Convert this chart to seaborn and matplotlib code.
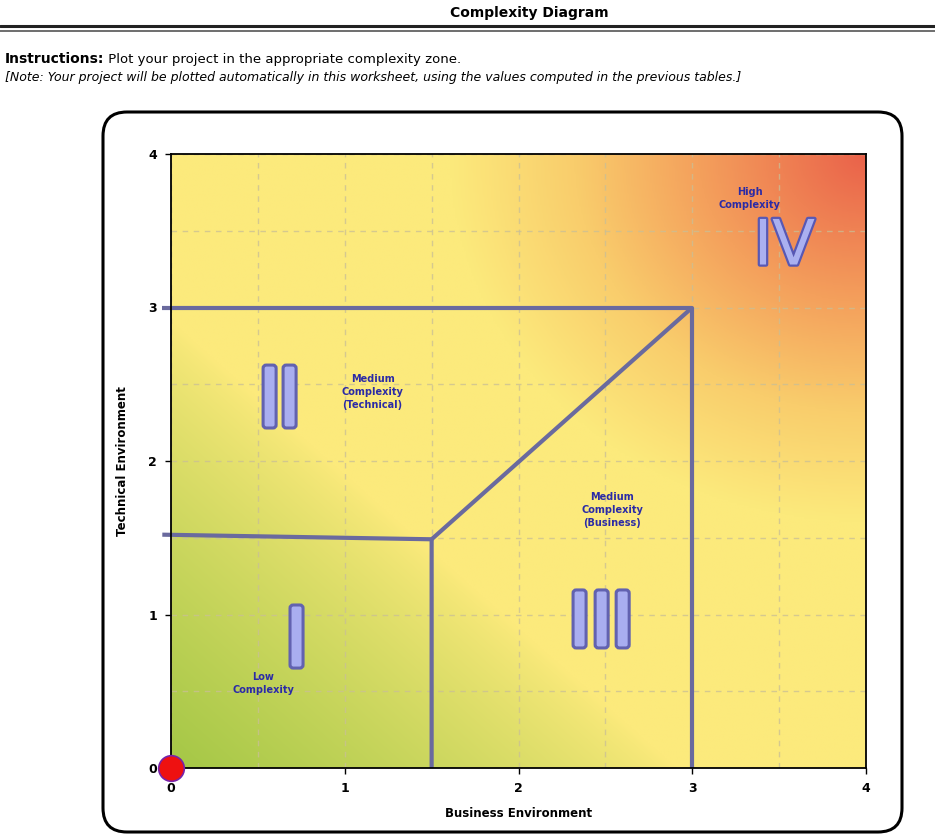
import numpy as np
import pandas as pd
import matplotlib
matplotlib.use("Agg")
import matplotlib.pyplot as plt
import matplotlib.patheffects as pe
from matplotlib.colors import LinearSegmentedColormap
from matplotlib.patches import FancyBboxPatch
from matplotlib.lines import Line2D
from matplotlib.transforms import IdentityTransform
import seaborn as sns

# ---- data -------------------------------------------------------------
axis_ticks = [0, 1, 2, 3, 4]
tick_labels = ["0", "1", "2", "3", "4"]

# project position (business, technical)
project_business = [0.0]
project_technical = [0.0]

# zone boundary segments: (x values, y values)
boundary_x = [[-0.05, 3.0, 3.0], [-0.05, 1.5, 1.5], [1.5, 3.0]]
boundary_y = [[3.0, 3.0, 0.0], [1.52, 1.49, 0.0], [1.49, 3.0]]

zone_names = ["Low\nComplexity", "Medium\nComplexity\n(Technical)",
              "Medium\nComplexity\n(Business)", "High\nComplexity"]
zone_label_x = [0.53, 1.16, 2.54, 3.33]
zone_label_y = [0.55, 2.45, 1.68, 3.71]

# zone numerals: I, II, III as bars (left edge x, bottom y, top y), IV as text
bar_left = [0.685, 0.530, 0.645, 2.314, 2.441, 2.562]
bar_bottom = [0.651, 2.215, 2.215, 0.782, 0.782, 0.782]
bar_top = [1.062, 2.625, 2.625, 1.160, 1.160, 1.160]
numeral_iv = "IV"

# ---- figure -----------------------------------------------------------
sns.set_theme(style="white")
plt.rcParams["font.family"] = ["DejaVu Sans"]

W, H = 935, 836
fig = plt.figure(figsize=(W / 100, H / 100), dpi=100)
fig.patch.set_facecolor("white")


def fx(px):
    return px / W


def fy(py):
    return 1 - py / H


# rounded chart frame
frame = FancyBboxPatch((103, H - 832), 799, 720,
                       boxstyle="round,pad=0,rounding_size=24",
                       transform=IdentityTransform(), facecolor="white",
                       edgecolor="black", linewidth=2.2, zorder=0)
fig.add_artist(frame)

# plot area
ax = fig.add_axes([fx(171), fy(768), fx(866) - fx(171), fy(154) - fy(768)])
ax.set_xlim(0, 4)
ax.set_ylim(0, 4)

# header
fig.text(fx(529), fy(13), "Complexity Diagram", ha="center", va="center",
         fontsize=10, fontweight="bold", color="black")
fig.add_artist(Line2D([0, 1], [fy(25.5), fy(25.5)], transform=fig.transFigure,
                      color="#222222", linewidth=2.2))
fig.add_artist(Line2D([0, 1], [fy(30.5), fy(30.5)], transform=fig.transFigure,
                      color="#555555", linewidth=1.2))

t1 = fig.text(fx(5), fy(59), "Instructions:", ha="left", va="center",
              fontsize=10, fontweight="bold", color="black")
ax.annotate(" Plot your project in the appropriate complexity zone.",
            xy=(1, 0.5), xycoords=t1, ha="left", va="center",
            fontsize=9.5, color="black", annotation_clip=False)
fig.text(fx(5), fy(77),
         "[Note: Your project will be plotted automatically in this worksheet, "
         "using the values computed in the previous tables.]",
         ha="left", va="center", fontsize=9, style="italic", color="black")

# background gradient: green near origin, yellow middle, orange/red top-right
gx, gy = np.meshgrid(np.linspace(0, 4, 400), np.linspace(0, 4, 400))
w_green = np.clip((2.9 - (gx + gy)) / 2.9, 0, 1) ** 0.8
r_hot = np.hypot(4 - gx, 4 - gy)
w_hot = np.clip((2.4 - r_hot) / 2.4, 0, 1)

yellow = np.array([252, 234, 124]) / 255
green = np.array([164, 199, 70]) / 255
img = yellow * (1 - w_green[..., None]) + green * w_green[..., None]
hot_cmap = LinearSegmentedColormap.from_list(
    "hot_zone", [(0.0, "#fcea7c"), (0.3, "#f9cd6c"), (0.6, "#f4a05c"),
                 (1.0, "#ea624a")])
hot_rgb = hot_cmap(w_hot)[..., :3]
mask = (w_hot > 0)[..., None]
img = np.where(mask, hot_rgb, img)
ax.imshow(img, extent=[0, 4, 0, 4], origin="lower", aspect="auto",
          zorder=0, interpolation="bilinear")

# dashed grid every half unit
ax.set_xticks(axis_ticks)
ax.set_yticks(axis_ticks)
ax.set_xticks(np.arange(0.5, 4, 1.0), minor=True)
ax.set_yticks(np.arange(0.5, 4, 1.0), minor=True)
ax.grid(which="both", color="#c9bf96", linestyle=(0, (4, 4)), linewidth=1.0,
        alpha=0.75, zorder=1)
ax.set_axisbelow(False)

# zone boundaries
for bx, by in zip(boundary_x, boundary_y):
    ax.plot(bx, by, color="#6a6a9e", linewidth=3.0, solid_capstyle="butt",
            clip_on=False, zorder=3)

# zone captions
for name, lx, ly in zip(zone_names, zone_label_x, zone_label_y):
    ax.text(lx, ly, name, ha="center", va="center", fontsize=7,
            fontweight="bold", color="#2b2ba6", linespacing=1.35, zorder=4)

# roman numeral bars
bar_width = 0.075
for left, bottom, top in zip(bar_left, bar_bottom, bar_top):
    ax.add_patch(FancyBboxPatch((left, bottom), bar_width, top - bottom,
                                boxstyle="round,pad=0,rounding_size=0.018",
                                mutation_aspect=173.7 / 153.5,
                                facecolor="#a9aef0", edgecolor="#6262b0",
                                linewidth=2.2, zorder=4))

num_fx = [pe.withStroke(linewidth=3.2, foreground="#5858b4")]
ax.text(3.53, 3.28, numeral_iv, fontsize=45, ha="center", va="baseline",
        color="#aab0f0", zorder=4, path_effects=num_fx,
        fontfamily="DejaVu Sans")

# project marker
sns.scatterplot(x=project_business, y=project_technical, ax=ax, s=340,
                color="#ee1111", edgecolor="#7722aa", linewidth=1.2,
                marker="o", clip_on=False, zorder=6, legend=False)

# axes styling
for side in ["left", "right", "top", "bottom"]:
    ax.spines[side].set_visible(True)
    ax.spines[side].set_color("black")
    ax.spines[side].set_linewidth(1.3)
    ax.spines[side].set_zorder(5)
ax.set_xticklabels(tick_labels, fontsize=9, fontweight="bold", color="black")
ax.set_yticklabels(tick_labels, fontsize=9, fontweight="bold", color="black")
ax.tick_params(axis="both", which="major", direction="out", length=4,
               width=1, color="black", pad=6, bottom=True, left=True)
ax.tick_params(axis="both", which="minor", length=0)
ax.set_xlabel("Business Environment", fontsize=8.5, fontweight="bold",
              labelpad=9, color="black")
ax.set_ylabel("Technical Environment", fontsize=8.5, fontweight="bold",
              labelpad=14, color="black")

fig.savefig("out.png", dpi=100, facecolor="white")
